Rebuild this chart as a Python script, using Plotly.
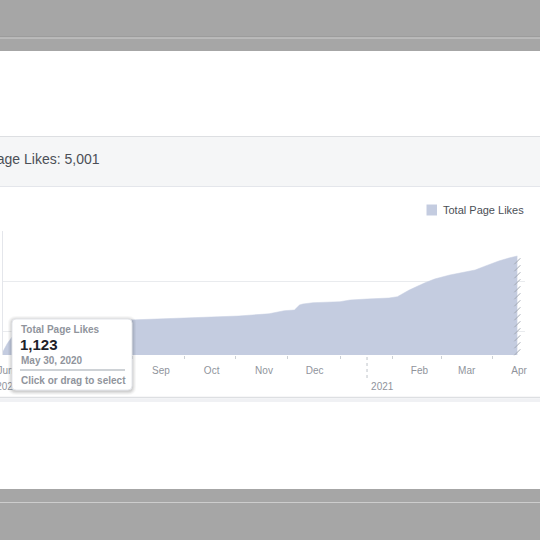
import plotly.graph_objects as go
import numpy as np

# ---- data ----
dates = ["2020-05-30", "2020-06-02", "2020-06-05", "2020-06-10", "2020-06-20", "2020-07-05",
         "2020-07-20", "2020-08-05", "2020-08-15", "2020-09-01", "2020-09-20", "2020-10-05",
         "2020-10-17", "2020-11-04", "2020-11-13", "2020-11-19", "2020-11-22", "2020-11-24",
         "2020-11-30", "2020-12-16", "2020-12-22", "2021-01-01", "2021-01-14", "2021-01-19",
         "2021-01-26", "2021-02-04", "2021-02-10", "2021-02-19", "2021-03-06", "2021-03-11",
         "2021-03-20", "2021-03-26", "2021-03-31"]
likes = [1123, 1500, 1780, 2000, 2200, 2320, 2380, 2420, 2440, 2500, 2540, 2570,
         2600, 2690, 2812, 2840, 3040, 3080, 3132, 3172, 3240, 3280, 3320, 3372,
         3640, 3920, 4080, 4240, 4440, 4572, 4800, 4920, 5001]

month_ticks = ["2020-06-01", "2020-07-01", "2020-08-01", "2020-09-01", "2020-10-01",
               "2020-11-01", "2020-12-01", "2021-02-01", "2021-03-01", "2021-04-01"]
month_labels = ["Jun", "Jul", "Aug", "Sep", "Oct", "Nov", "Dec", "Feb", "Mar", "Apr"]
mid_ticks = ["2020-06-15", "2020-07-15", "2020-08-15", "2020-09-15", "2020-10-15",
             "2020-11-15", "2020-12-16", "2021-01-16", "2021-02-14", "2021-03-16"]
year_ticks = ["2020-06-02", "2021-01-10"]
year_labels = ["2020", "2021"]
year_break = "2021-01-01"
grid_vals = [2000, 4000, 6000]
series_name = "Total Page Likes"
total_text = "Total Page Likes: 5,001"
tip_value = "1,123"
tip_date = "May 30, 2020"

FILL = "#c4cce0"
FONT = "Liberation Sans, Arial, Helvetica, sans-serif"
W = H = 540
X_RANGE = ["2020-05-30 11:00", "2021-04-04 13:00"]


def PX(x):
    return x / W


def PY(y):
    return 1 - y / H


def rrect(x0, y0, x1, y1, r):
    a, b, c, d = PX(x0), PY(y0), PX(x1), PY(y1)
    rx, ry = r / W, r / H
    return (f"M{a+rx},{b} L{c-rx},{b} Q{c},{b} {c},{b-ry} L{c},{d+ry} Q{c},{d} {c-rx},{d} "
            f"L{a+rx},{d} Q{a},{d} {a},{d+ry} L{a},{b-ry} Q{a},{b} {a+rx},{b} Z")


fig = go.Figure()
fig.add_trace(go.Scatter(x=dates, y=likes, mode="lines", fill="tozeroy",
                         fillcolor=FILL, line=dict(color=FILL, width=0.5),
                         hoverinfo="skip", showlegend=False))

# incomplete-data hatch on the right edge
hatch_y = np.arange(1150, likes[-1], 280)
fig.add_trace(go.Scatter(x=[dates[-1]] * len(hatch_y), y=hatch_y, mode="markers",
                         marker=dict(symbol="line-ne-open", size=6, color="#a3a9b3",
                                     line=dict(color="#a3a9b3", width=1)),
                         hoverinfo="skip", showlegend=False, cliponaxis=False))

# hovered point
fig.add_trace(go.Scatter(x=[dates[0]], y=[likes[0]], mode="markers",
                         marker=dict(symbol="circle", size=8, color="white",
                                     line=dict(color="#5b7bd5", width=2.5)),
                         hoverinfo="skip", showlegend=False, cliponaxis=False))

# invisible trace to activate the year axis
fig.add_trace(go.Scatter(x=[dates[0]], y=[likes[0]], xaxis="x2", mode="markers",
                         marker=dict(opacity=0), hoverinfo="skip", showlegend=False))

shapes = []
# gray bands
shapes += [
    dict(type="rect", xref="paper", yref="paper", x0=0, x1=1, y0=PY(51), y1=1,
         fillcolor="#a6a6a6", line_width=0, layer="below"),
    dict(type="line", xref="paper", yref="paper", x0=0, x1=1, y0=PY(36.8), y1=PY(36.8),
         line=dict(color="#999999", width=1), layer="below"),
    dict(type="line", xref="paper", yref="paper", x0=0, x1=1, y0=PY(38), y1=PY(38),
         line=dict(color="#cdcdcd", width=1.2), layer="below"),
    dict(type="rect", xref="paper", yref="paper", x0=0, x1=1, y0=0, y1=PY(489),
         fillcolor="#a6a6a6", line_width=0, layer="below"),
    dict(type="line", xref="paper", yref="paper", x0=0, x1=1, y0=PY(502.5), y1=PY(502.5),
         line=dict(color="#cdcdcd", width=1.2), layer="below"),
]
# header panel
shapes += [
    dict(type="rect", xref="paper", yref="paper", x0=0, x1=1, y0=PY(186.5), y1=PY(136.5),
         fillcolor="#f5f6f7", line_width=0, layer="below"),
    dict(type="line", xref="paper", yref="paper", x0=0, x1=1, y0=PY(136.5), y1=PY(136.5),
         line=dict(color="#dddfe2", width=1), layer="below"),
    dict(type="line", xref="paper", yref="paper", x0=0, x1=1, y0=PY(186.5), y1=PY(186.5),
         line=dict(color="#e4e6eb", width=1), layer="below"),
    dict(type="line", xref="paper", yref="paper", x0=0, x1=1, y0=PY(397.5), y1=PY(397.5),
         line=dict(color="#dddfe2", width=1.5), layer="below"),
    dict(type="rect", xref="paper", yref="paper", x0=0, x1=1, y0=PY(402), y1=PY(398.5),
         fillcolor="#f0f1f4", line_width=0, layer="below"),
]
# legend swatch
shapes.append(dict(type="rect", xref="paper", yref="paper", x0=PX(426.5), x1=PX(437),
                   y0=PY(215.5), y1=PY(204.5), fillcolor=FILL, line_width=0))
# year separator
shapes.append(dict(type="line", xref="x", yref="paper", x0=year_break, x1=year_break,
                   y0=PY(357), y1=PY(381), line=dict(color="#bec3c9", width=1, dash="dot")))
# tooltip shadow + box
for i, op in [(4, 0.03), (3, 0.04), (2, 0.05), (1, 0.06)]:
    shapes.append(dict(type="path", xref="paper", yref="paper",
                       path=rrect(12 - i, 319 - i + 1, 132 + i, 390 + i + 1, 4 + i),
                       fillcolor=f"rgba(0,0,0,{op})", line_width=0, layer="above"))
shapes.append(dict(type="path", xref="paper", yref="paper", path=rrect(12, 319, 132, 390, 4),
                   fillcolor="white", line=dict(color="#e4e6eb", width=1), layer="above"))
shapes.append(dict(type="line", xref="paper", yref="paper", x0=PX(20), x1=PX(125),
                   y0=PY(370), y1=PY(370), line=dict(color="#bec3c9", width=1.5), layer="above"))

ann = []


def text(x, y, s, size, color, anchor="left", bold=False):
    ann.append(dict(x=x, y=PY(y), xref="paper", yref="paper", text=f"<b>{s}</b>" if bold else s,
                    showarrow=False, xanchor=anchor, yanchor="middle",
                    font=dict(family=FONT, size=size, color=color)))


text(PX(101.5), 158.5, total_text, 14, "#4b4f56", anchor="right")
text(PX(441.5), 210, series_name, 11, "#4b4f56")
text(PX(18.5), 329, series_name, 10, "#90949c", bold=True)
text(PX(18), 344.5, tip_value, 15, "#1d2129", bold=True)
text(PX(18.5), 360.5, tip_date, 10, "#90949c", bold=True)
text(PX(18.5), 380, "Click or drag to select", 10, "#90949c", bold=True)

fig.update_layout(
    width=W, height=H, margin=dict(l=0, r=0, t=0, b=0, autoexpand=False),
    paper_bgcolor="white", plot_bgcolor="rgba(0,0,0,0)",
    showlegend=False, shapes=shapes, annotations=ann,
    font=dict(family=FONT),
    xaxis=dict(type="date", domain=[PX(3), PX(525)], automargin=False,
               range=X_RANGE,
               tickmode="array", tickvals=month_ticks, ticktext=month_labels,
               ticks="outside", ticklen=0, tickcolor="rgba(0,0,0,0)",
               ticklabelstandoff=6, ticklabeloverflow="allow",
               tickfont=dict(family=FONT, size=10, color="#90949c"),
               showgrid=False, zeroline=False, showline=False, fixedrange=True,
               minor=dict(tickmode="array", tickvals=mid_ticks, ticks="outside",
                          ticklen=3, tickcolor="#ccd0d5", tickwidth=1, showgrid=False)),
    xaxis2=dict(type="date", overlaying="x", anchor="y", side="bottom", automargin=False,
                range=X_RANGE,
                tickmode="array", tickvals=year_ticks, ticktext=year_labels,
                ticks="", ticklabelstandoff=24, ticklabeloverflow="allow",
                tickfont=dict(family=FONT, size=10, color="#90949c"),
                showgrid=False, zeroline=False, showline=False, fixedrange=True),
    yaxis=dict(domain=[PY(355), PY(230.5)], range=[1040, 6020], automargin=False,
               tickmode="array", tickvals=grid_vals, showticklabels=False,
               showgrid=True, gridcolor="#e9ebee", gridwidth=1,
               zeroline=False, showline=True, linecolor="#e4e6eb", linewidth=1,
               ticks="", fixedrange=True),
)

fig.write_html("out.html")
